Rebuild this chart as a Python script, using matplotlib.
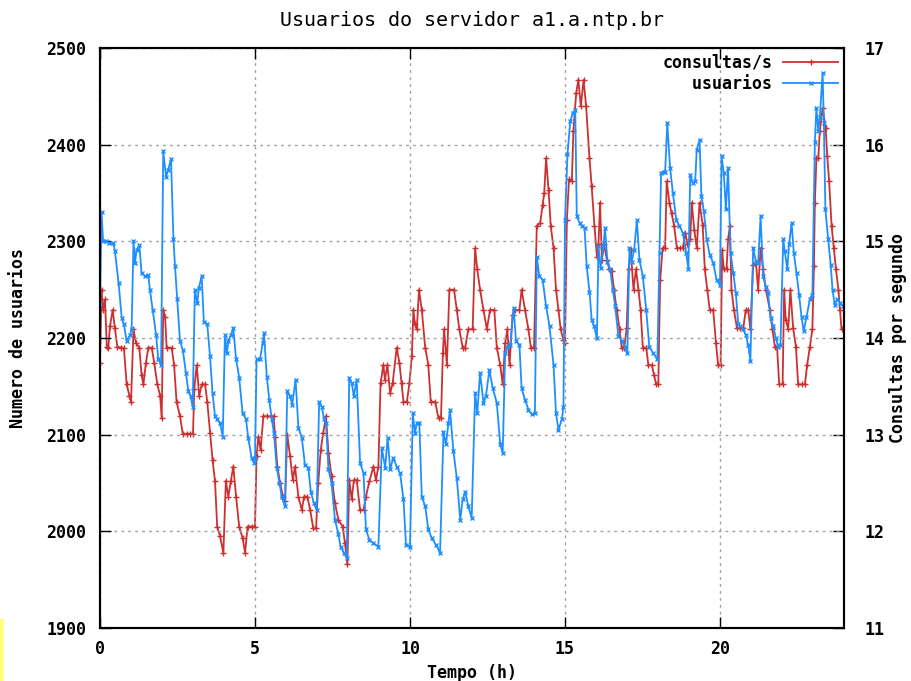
import matplotlib
matplotlib.use("Agg")
import matplotlib.pyplot as plt
from matplotlib.patches import Rectangle

# Dados (tempo em horas)

# usuarios (eixo da esquerda)
horas_usuarios = [
    0, 0.05, 0.1, 0.2, 0.3, 0.43, 0.48, 0.6, 0.7, 0.77, 0.86, 0.97, 1.02, 1.08, 1.13, 1.18, 1.27, 1.34, 1.45, 1.56,
    1.61, 1.7, 1.81, 1.88, 1.97, 2.04, 2.13, 2.2, 2.29, 2.37, 2.42, 2.49, 2.58, 2.67, 2.77, 2.85, 2.92, 2.99, 3.06, 3.14,
    3.19, 3.28, 3.35, 3.46, 3.55, 3.63, 3.71, 3.78, 3.87, 3.96, 4.03, 4.09, 4.14, 4.22, 4.3, 4.39, 4.49, 4.6, 4.71, 4.78,
    4.89, 4.97,
    5.0, 5.05, 5.16, 5.25, 5.29, 5.38, 5.46, 5.54, 5.61, 5.7, 5.79, 5.86, 5.97, 6.04, 6.13, 6.2, 6.31, 6.4, 6.51, 6.61,
    6.72, 6.8, 6.9, 6.99, 7.07, 7.15, 7.23, 7.29, 7.37, 7.47, 7.58, 7.69, 7.76, 7.87, 7.96, 8.04, 8.12, 8.19, 8.28, 8.39,
    8.5, 8.58, 8.69, 8.82, 8.98, 9.09, 9.2, 9.28, 9.36, 9.46, 9.57,
    9.68, 9.79, 9.87, 10.0, 10.09, 10.16, 10.22, 10.3, 10.38, 10.49, 10.59, 10.7, 10.84, 10.97, 11.08, 11.16, 11.24,
    11.29, 11.4, 11.51, 11.62, 11.7, 11.78, 11.88, 11.99, 12.1, 12.17, 12.26, 12.37, 12.45, 12.56, 12.67, 12.8, 12.91,
    12.99, 13.07, 13.14, 13.23, 13.34, 13.42, 13.53, 13.6, 13.71, 13.82, 13.93, 14.03, 14.09, 14.17, 14.28, 14.39, 14.5,
    14.63, 14.71, 14.79, 14.9, 14.95, 15.0, 15.08, 15.17, 15.25, 15.33, 15.38, 15.47, 15.54, 15.63, 15.7, 15.79, 15.86,
    15.94, 16.03, 16.08, 16.15, 16.24, 16.29, 16.37, 16.46, 16.54, 16.62, 16.72, 16.83, 16.94, 17.01, 17.08, 17.15,
    17.23, 17.32, 17.4, 17.51, 17.62, 17.72, 17.85, 17.98, 18.05, 18.1, 18.18, 18.23, 18.3, 18.39, 18.48, 18.59, 18.69,
    18.8, 18.91, 18.98, 19.04, 19.12, 19.2, 19.25, 19.34,
    19.4, 19.48, 19.57, 19.67, 19.78, 19.89, 20.0, 20.05, 20.12, 20.19, 20.26, 20.34, 20.43, 20.51, 20.59, 20.66, 20.75,
    20.83, 20.91, 20.98, 21.07, 21.16, 21.23, 21.31, 21.39, 21.48, 21.55, 21.63, 21.72, 21.8, 21.88, 21.95, 22.04,
    22.09, 22.17, 22.23, 22.31, 22.38, 22.47, 22.55, 22.63, 22.7, 22.79, 22.9, 22.98, 23.06, 23.11, 23.17, 23.22, 23.31,
    23.35, 23.4, 23.49, 23.57, 23.63, 23.7, 23.78, 23.87, 23.97,
]
usuarios = [
    2235, 2330, 2300, 2300, 2298, 2298, 2290, 2257, 2221, 2214, 2197, 2203, 2209, 2300, 2278, 2291, 2296, 2267, 2264, 2265,
    2250, 2229, 2203, 2178, 2172, 2393, 2367, 2374, 2385, 2302, 2274, 2240, 2197, 2188, 2164, 2145, 2140, 2129, 2250, 2236,
    2252, 2264, 2217, 2214, 2181, 2143, 2119, 2116, 2112, 2098, 2203, 2184, 2197, 2203, 2210, 2178, 2159, 2122, 2116, 2097,
    2076, 2071,
    2076, 2178, 2178, 2195, 2205, 2160, 2136, 2116, 2102, 2066, 2050, 2036, 2026, 2145, 2140, 2131, 2157, 2107, 2097, 2069,
    2066, 2041, 2029, 2022, 2134, 2129, 2116, 2112, 2064, 2050, 2012, 1997, 1984, 1978, 1972, 2159, 2153, 2140, 2157, 2071,
    2060, 2002, 1991, 1988, 1984, 2086, 2066, 2097, 2064, 2076, 2067,
    2060, 2033, 1986, 1984, 2122, 2102, 2112, 2112, 2036, 2026, 2002, 1993, 1986, 1978, 2103, 2090, 2112,
    2126, 2083, 2055, 2012, 2033, 2041, 2026, 2014, 2143, 2122, 2164, 2133, 2140, 2167, 2148, 2133, 2090,
    2081, 2184, 2191, 2193, 2231, 2197, 2193, 2148, 2136, 2126, 2121, 2122, 2284, 2264, 2260, 2233, 2212,
    2172, 2122, 2105, 2116, 2129, 2322, 2390, 2424, 2433, 2436, 2326, 2319, 2316, 2314, 2274, 2248, 2219,
    2212, 2200, 2295, 2272, 2295, 2314, 2279, 2271, 2250, 2233, 2202, 2197, 2191, 2184, 2293, 2279,
    2291, 2322, 2281, 2264, 2229, 2191, 2184, 2178, 2288, 2371, 2372, 2372, 2422, 2376, 2350, 2322, 2316,
    2309, 2288, 2271, 2369, 2360, 2362, 2395, 2405,
    2347, 2331, 2302, 2286, 2278, 2260, 2255, 2388, 2371, 2333, 2376, 2288, 2267, 2247, 2214, 2212, 2209,
    2203, 2193, 2176, 2293, 2279, 2278, 2326, 2264, 2253, 2247, 2221, 2212, 2200, 2191, 2193, 2302,
    2290, 2271, 2297, 2319, 2288, 2267, 2245, 2222, 2207, 2222, 2240, 2245, 2403, 2438, 2414, 2429, 2474,
    2422, 2333, 2302, 2276, 2250, 2234, 2240, 2236, 2233,
]

# consultas por segundo (eixo da direita)
horas_consultas = [
    0, 0.05, 0.1, 0.16, 0.22, 0.27, 0.32, 0.41, 0.48, 0.56, 0.67, 0.77, 0.86, 0.95, 1.0, 1.08, 1.16, 1.27, 1.34, 1.4,
    1.48, 1.56, 1.67, 1.75, 1.85, 1.94, 1.99, 2.04, 2.1, 2.15, 2.31, 2.39, 2.47, 2.58, 2.67, 2.8, 2.9, 3.0, 3.04, 3.12,
    3.2, 3.28, 3.39, 3.46, 3.55, 3.63, 3.71, 3.78, 3.87, 3.98, 4.06, 4.14, 4.22, 4.3, 4.39, 4.49, 4.6, 4.68, 4.76, 4.9,
    5.0, 5.05, 5.11, 5.18, 5.27, 5.38, 5.5, 5.6, 5.65, 5.72, 5.81, 5.9, 5.97, 6.04, 6.13, 6.22, 6.29, 6.4, 6.51, 6.58,
    6.69, 6.78, 6.88, 6.97, 7.04, 7.12, 7.2, 7.29, 7.37, 7.47, 7.58, 7.69, 7.83, 7.9, 7.98, 8.04, 8.12, 8.19, 8.28, 8.39,
    8.5, 8.58, 8.69, 8.82, 8.9, 8.98, 9.05, 9.14, 9.19, 9.27, 9.36, 9.44, 9.57, 9.66,
    9.73, 9.79, 9.9, 9.98, 10.06, 10.11, 10.16, 10.22, 10.29, 10.38, 10.49, 10.59, 10.67, 10.81, 10.92, 11.0, 11.06,
    11.1, 11.19, 11.27, 11.42, 11.51, 11.59, 11.7, 11.78, 11.88, 12.02, 12.1, 12.17, 12.26, 12.37, 12.48, 12.58, 12.72,
    12.8, 12.91, 12.99, 13.07, 13.14, 13.21, 13.31, 13.39, 13.53, 13.6, 13.71, 13.82, 13.9, 14.0, 14.09, 14.2, 14.28,
    14.33, 14.39, 14.47,
    14.54, 14.63, 14.71, 14.79, 14.86, 14.95, 15.0, 15.06, 15.13, 15.22, 15.27, 15.36, 15.43, 15.51, 15.6, 15.68, 15.79,
    15.86, 15.95, 16.03, 16.08, 16.13, 16.19, 16.26, 16.35, 16.43, 16.51, 16.58, 16.67, 16.76, 16.83, 16.91, 16.99,
    17.05, 17.12, 17.21, 17.29, 17.37, 17.44, 17.51, 17.62, 17.69, 17.8, 17.87, 17.94, 18.01, 18.07, 18.15, 18.23,
    18.28, 18.37, 18.44, 18.52, 18.61, 18.71, 18.8, 18.88, 18.95, 19.04, 19.09, 19.17, 19.25, 19.34,
    19.44, 19.51, 19.59, 19.67, 19.78, 19.87, 19.94, 20.02, 20.07, 20.12, 20.21, 20.26, 20.32, 20.37, 20.45, 20.55,
    20.66, 20.75, 20.83, 20.91, 20.98, 21.07, 21.16, 21.23, 21.31, 21.39, 21.48, 21.61, 21.69, 21.77, 21.84, 21.91,
    22.02, 22.07, 22.12, 22.2, 22.27, 22.36, 22.45, 22.52, 22.63, 22.74, 22.81, 22.9, 22.98, 23.03, 23.06, 23.11,
    23.17, 23.22, 23.31, 23.41, 23.46, 23.52, 23.6, 23.67, 23.74, 23.82, 23.87, 23.92, 24.0,
]
consultas = [
    13.74, 14.50, 14.29, 14.40, 13.91, 13.90, 14.12, 14.29, 14.10, 13.91, 13.90, 13.90, 13.52, 13.40, 13.34, 14.09,
    13.95, 13.90, 13.62, 13.52, 13.74, 13.90, 13.90, 13.74, 13.52, 13.40, 13.17, 14.29, 14.22, 13.90, 13.90, 13.72,
    13.34, 13.19, 13.01, 13.01, 13.01, 13.01, 13.47, 13.72, 13.40, 13.52, 13.52, 13.34, 13.02, 12.74, 12.52, 12.05,
    11.95, 11.78, 12.52, 12.36, 12.52, 12.67, 12.36, 12.05, 11.93, 11.78, 12.05, 12.05,
    12.05, 12.78, 12.98, 12.84, 13.19, 13.19, 13.19, 13.19, 12.98, 12.67, 12.50, 12.36, 12.31, 13.00, 12.78, 12.53,
    12.67, 12.36, 12.22, 12.36, 12.36, 12.22, 12.03, 12.03, 12.50, 12.84, 13.02, 13.19, 12.81, 12.57, 12.29, 12.12,
    12.05, 11.88, 11.66, 12.53, 12.33, 12.53, 12.53, 12.22, 12.22, 12.36, 12.52, 12.67, 12.53, 12.67, 13.53, 13.72,
    13.57, 13.72, 13.43, 13.53, 13.90, 13.74,
    13.53, 13.34, 13.34, 13.53, 13.81, 14.29, 14.14, 14.09, 14.50, 14.29, 13.90, 13.72, 13.34, 13.34, 13.17, 13.17,
    13.84, 14.09, 13.72, 14.50, 14.50, 14.29, 14.09, 13.90, 13.90, 14.09, 14.09, 14.93, 14.71, 14.50, 14.29, 14.09,
    14.29, 14.29, 13.90, 13.72, 13.52, 13.95, 14.09, 13.72, 14.24, 14.29, 14.29, 14.50, 14.29, 14.09, 13.90, 13.90,
    15.16, 15.19, 15.38, 15.50, 15.86, 15.53,
    15.16, 14.93, 14.50, 14.29, 14.09, 13.98, 13.95, 15.22, 15.64, 15.62, 16.14, 16.53, 16.67, 16.40, 16.67, 16.40,
    15.86, 15.57, 15.16, 14.84, 14.97, 15.40, 14.81, 14.97, 14.81, 14.71, 14.69, 14.50, 14.29, 14.09, 13.90, 13.90,
    14.10, 14.71, 14.91, 14.50, 14.71, 14.50, 14.29, 13.90, 13.90, 13.72, 13.72, 13.62, 13.52, 13.52, 14.60, 14.93,
    14.93, 15.62, 15.40, 15.29, 15.16, 14.93, 14.93, 14.93, 15.09, 14.97, 15.02, 15.40, 15.12, 14.93, 15.40,
    15.17, 14.71, 14.50, 14.29, 14.29, 13.95, 13.72, 13.72, 14.91, 14.71, 14.71, 15.02, 15.16, 14.50, 14.29, 14.10,
    14.10, 14.10, 14.29, 14.29, 14.09, 14.76, 14.78, 14.50, 14.93, 14.71, 14.50, 14.29, 14.09, 13.91, 13.91, 13.52,
    13.52, 14.50, 14.19, 14.09, 14.50, 14.10, 13.91, 13.52, 13.52, 13.52, 13.72, 13.91, 14.09, 14.74, 15.40, 15.86,
    15.86, 16.14, 16.38, 16.17, 15.88, 15.62, 15.16, 14.93, 14.71, 14.50, 14.29, 14.09, 14.09,
]

ticks_horas = [0, 5, 10, 15, 20]
ticks_usuarios = [1900, 2000, 2100, 2200, 2300, 2400, 2500]
ticks_consultas = [11, 12, 13, 14, 15, 16, 17]

cor_consultas = "#cc3030"
cor_usuarios = "#1e8fff"

plt.rcParams["font.family"] = "DejaVu Sans Mono"
plt.rcParams["font.weight"] = "bold"
plt.rcParams["axes.labelweight"] = "bold"
plt.rcParams["font.size"] = 12

fig = plt.figure(figsize=(9.11, 6.81), dpi=100)
ax = fig.add_axes([100 / 911, 53 / 681, 744 / 911, 580 / 681])
ax2 = ax.twinx()

# usuarios por cima das consultas
ax.set_zorder(ax2.get_zorder() + 1)
ax.patch.set_visible(False)

linha_c, = ax2.plot(horas_consultas, consultas, color=cor_consultas, lw=1.3,
                    marker="+", markersize=5, markeredgewidth=1, label="consultas/s")
linha_u, = ax.plot(horas_usuarios, usuarios, color=cor_usuarios, lw=1.3,
                   marker="x", markersize=3.5, markeredgewidth=1, label="usuarios")

ax.set_xlim(0, 24)
ax.set_ylim(1900, 2500)
ax2.set_ylim(11, 17)
ax.set_xticks(ticks_horas)
ax.set_yticks(ticks_usuarios)
ax2.set_yticks(ticks_consultas)

ax.grid(True, color="#a0a0a0", linestyle=(0, (2, 3)), linewidth=1)

ax.tick_params(axis="x", direction="in", length=8, width=1, top=True, pad=9)
ax.tick_params(axis="y", direction="in", length=8, width=1, pad=10)
ax2.tick_params(axis="y", direction="in", length=8, width=1, pad=15)

for a in (ax, ax2):
    for s in a.spines.values():
        s.set_linewidth(1.5)
        s.set_color("black")

ax.set_title("Usuarios do servidor a1.a.ntp.br", pad=16, fontweight="normal")
ax.set_xlabel("Tempo (h)", labelpad=4)
ax.set_ylabel("Numero de usuarios", labelpad=14)
ax2.set_ylabel("Consultas por segundo", labelpad=3)

# fonte monoespacada: os espacos alinham os rotulos pela direita, como no gnuplot
rotulos = ["consultas/s", "usuarios"]
largura = max(len(r) for r in rotulos)
ax.legend([linha_c, linha_u], [r.rjust(largura) for r in rotulos], loc="upper right",
          frameon=False, markerfirst=False, handlelength=3.3, handletextpad=0.65,
          borderaxespad=0, borderpad=0.35, labelspacing=0.2)

# faixa amarela no canto inferior esquerdo da imagem original
fig.add_artist(Rectangle((0, 0), 4 / 911, 62 / 681, transform=fig.transFigure,
                         color="#ffff80", lw=0))

fig.savefig("out.png", dpi=100)
